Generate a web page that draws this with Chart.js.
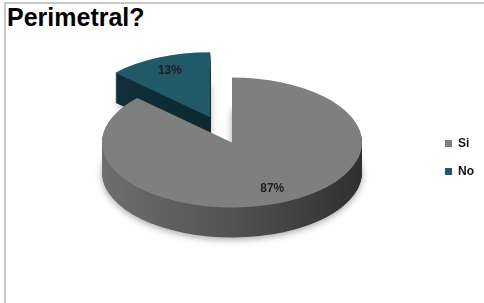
<!DOCTYPE html>
<html>
<head>
<meta charset="utf-8">
<script src="https://cdn.jsdelivr.net/npm/chart.js@4.4.1/dist/chart.umd.min.js"></script>
<style>
    html, body { margin: 0; padding: 0; background: #fff; }
    #wrap { position: relative; width: 484px; height: 303px; overflow: hidden; }
    #frame {
        position: absolute; left: 4px; top: 2px; width: 540px; height: 360px;
        border-top: 2px solid #c8c8c8; border-left: 2px solid #c8c8c8;
    }
    #title {
        position: absolute; left: 7px; top: 5px; white-space: nowrap; color: #000;
        font: bold 25px/25px "Liberation Sans", Arial, sans-serif;
    }
    #chartBox { position: absolute; left: 0; top: 0; width: 484px; height: 303px; }
</style>
</head>
<body>
<div id="wrap">
    <div id="frame"></div>
    <div id="title">Perimetral?</div>
    <div id="chartBox"><canvas id="pieChart"></canvas></div>
</div>
<script>
// chart values
const categories = ['Si', 'No'];
const percentValues = [87, 13];
const sliceLabels = ['87%', '13%'];

// look of the slices
const topColors = ['#7f7f7f', '#215968'];
const sideStops = [['#6e6e6e', '#525252', '#2f2f2f'], ['#12343f', '#0e2a33', '#0a1f27']];
const explode = [0, 55];      // how far each slice is pulled out
const pieRadius = 130;
const tilt = 0.5;             // vertical squash of the pie
const depth = 30;             // thickness of the pie in px

// draws the pie as a tilted disc with side walls, using the arcs chart.js laid out
const pie3d = {
    id: 'pie3d',
    beforeDatasetsDraw(chart) {
        const ctx = chart.ctx;
        const arcs = chart.getDatasetMeta(0).data;
        if (!arcs.length) return;
        const cx = arcs[0].x, cy = arcs[0].y;
        const lift = depth / 2;

        // offset of a slice along its middle angle
        const pull = function (arc) {
            const mid = (arc.startAngle + arc.endAngle) / 2;
            const off = arc.options.offset || 0;
            return { dx: Math.cos(mid) * off, dy: Math.sin(mid) * off };
        };
        // let the arc element draw itself with another fill
        const paint = function (arc, fill) {
            const saved = arc.options;
            arc.options = Object.assign({}, saved, { backgroundColor: fill, borderWidth: 0, offset: 0 });
            arc.draw(ctx);
            arc.options = saved;
        };

        ctx.save();
        ctx.translate(cx, cy - lift);
        ctx.scale(1, tilt);
        ctx.translate(-cx, -cy);

        // side walls: stack the slice shapes downwards
        for (let d = depth; d > 0; d--) {
            arcs.forEach(function (arc, i) {
                const s = pull(arc);
                const r = arc.outerRadius;
                const g = ctx.createLinearGradient(cx + s.dx - r, 0, cx + s.dx + r, 0);
                g.addColorStop(0, sideStops[i][0]);
                g.addColorStop(0.5, sideStops[i][1]);
                g.addColorStop(1, sideStops[i][2]);
                ctx.save();
                if (d === depth) {
                    ctx.shadowColor = 'rgba(0,0,0,0.35)';
                    ctx.shadowBlur = 7;
                    ctx.shadowOffsetY = 2;
                }
                ctx.translate(s.dx, s.dy + d / tilt);
                paint(arc, g);
                ctx.restore();
            });
        }

        // top faces
        arcs.forEach(function (arc, i) {
            const s = pull(arc);
            ctx.save();
            ctx.translate(s.dx, s.dy);
            paint(arc, topColors[i]);
            ctx.restore();
        });
        ctx.restore();

        // percentage labels
        ctx.save();
        ctx.font = 'bold 12px "Liberation Sans", Arial, sans-serif';
        ctx.fillStyle = '#1e1e1e';
        ctx.textAlign = 'center';
        ctx.textBaseline = 'middle';
        arcs.forEach(function (arc, i) {
            const s = pull(arc);
            const mid = (arc.startAngle + arc.endAngle) / 2;
            const r = arc.outerRadius * 0.78;
            const px = cx + s.dx + Math.cos(mid) * r;
            const py = cy + s.dy + Math.sin(mid) * r;
            ctx.fillText(sliceLabels[i], px, (cy - lift) + (py - cy) * tilt);
        });
        ctx.restore();

        return false; // default flat drawing is replaced by the one above
    }
};

const ctx = document.getElementById('pieChart').getContext('2d');
window.pieChart = new Chart(ctx, {
    type: 'pie',
    data: {
        labels: categories,
        datasets: [{
            data: percentValues,
            backgroundColor: topColors,
            borderWidth: 0,
            offset: explode
        }]
    },
    options: {
        responsive: true,
        maintainAspectRatio: false,
        animation: false,
        events: [],
        radius: pieRadius,
        layout: { padding: { left: 35, top: 12, right: 0, bottom: 0 } },
        plugins: {
            legend: {
                position: 'right',
                labels: {
                    boxWidth: 7,
                    boxHeight: 7,
                    padding: 16,
                    color: '#111',
                    font: { family: '"Liberation Sans", Arial, sans-serif', size: 12, weight: 'bold' }
                }
            },
            tooltip: { enabled: false }
        }
    },
    plugins: [pie3d]
});
</script>
</body>
</html>
